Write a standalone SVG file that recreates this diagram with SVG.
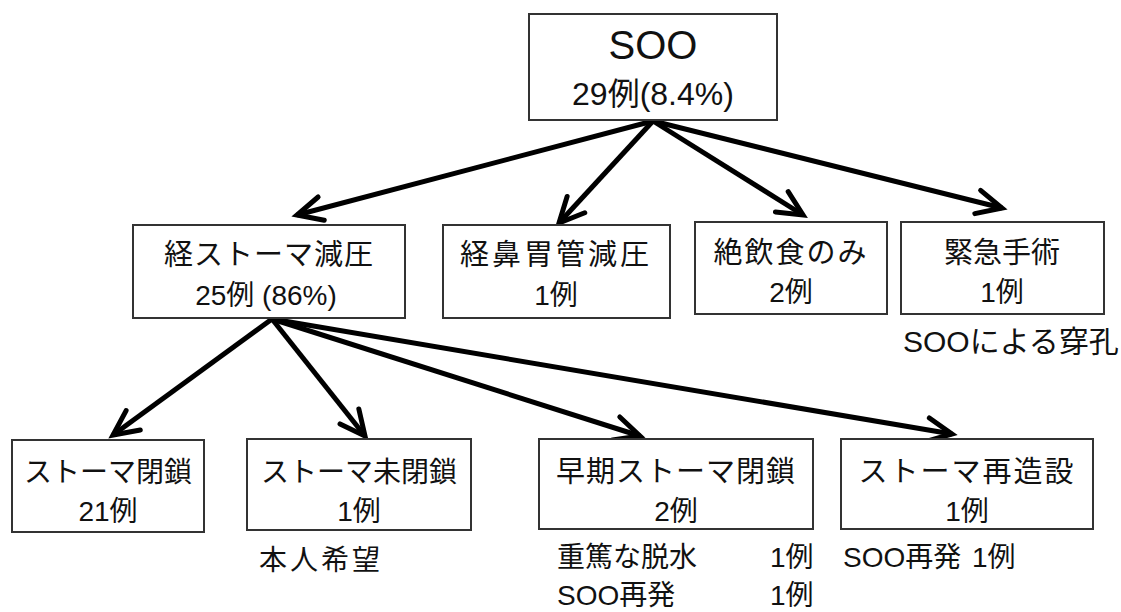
<svg xmlns="http://www.w3.org/2000/svg" width="1121" height="612" viewBox="0 0 1121 612">
<defs>
<style>
.box{fill:#fff;stroke:#333;stroke-width:2}
text{font-family:"Liberation Sans","Noto Sans CJK JP",sans-serif;fill:#111;text-anchor:middle}
.t{font-size:29px}
.n{font-size:28px}
.note{font-size:28px;text-anchor:start}
.conn line{stroke:#000;stroke-width:5;marker-end:url(#ah)}
</style>
<marker id="ah" markerUnits="userSpaceOnUse" markerWidth="40" markerHeight="40" refX="0" refY="0" viewBox="-30 -20 40 40" orient="auto">
<path d="M-25,-12 L0,0 L-25,12" fill="none" stroke="#000" stroke-width="5" stroke-linejoin="miter" stroke-linecap="round"/>
</marker>
</defs>
<rect width="1121" height="612" fill="#fff"/>
<g id="connectors" class="conn">
<line x1="653" y1="121" x2="297" y2="215"/>
<line x1="653" y1="121" x2="559" y2="223"/>
<line x1="653" y1="121" x2="803" y2="215"/>
<line x1="653" y1="121" x2="1002" y2="208"/>
<line x1="272" y1="319" x2="113" y2="435"/>
<line x1="272" y1="319" x2="365" y2="436"/>
<line x1="272" y1="319" x2="640" y2="436"/>
<line x1="272" y1="319" x2="952" y2="434"/>
</g>
<g id="n-soo">
<rect class="box" x="529" y="14" width="248" height="106"/>
<text x="653" y="59" style="font-size:40px">SOO</text>
<text x="653" y="105" style="font-size:32px">29例(8.4%)</text>
</g>
<g id="n-transstoma">
<rect class="box" x="133" y="225" width="272" height="93"/>
<text class="t" x="269" y="265" style="letter-spacing:1px">経ストーマ減圧</text>
<text class="n" x="266" y="305">25例 (86%)</text>
</g>
<g id="n-ngtube">
<rect class="box" x="443" y="225" width="227" height="93"/>
<text class="t" x="556" y="265" style="letter-spacing:3px">経鼻胃管減圧</text>
<text class="n" x="556" y="305">1例</text>
</g>
<g id="n-npo">
<rect class="box" x="695" y="222" width="192" height="92"/>
<text class="t" x="791" y="263" style="letter-spacing:2px">絶飲食のみ</text>
<text class="n" x="791" y="302">2例</text>
</g>
<g id="n-emerg">
<rect class="box" x="901" y="222" width="203" height="92"/>
<text class="t" x="1002" y="263">緊急手術</text>
<text class="n" x="1002" y="302">1例</text>
<text class="note" x="903" y="352" style="font-size:30px">SOOによる穿孔</text>
</g>
<g id="n-closed">
<rect class="box" x="12" y="440" width="192" height="92"/>
<text class="n" x="108" y="482">ストーマ閉鎖</text>
<text class="n" x="108" y="521">21例</text>
</g>
<g id="n-notclosed">
<rect class="box" x="247" y="439" width="224" height="91"/>
<text class="n" x="359" y="482">ストーマ未閉鎖</text>
<text class="n" x="359" y="521">1例</text>
<text class="note" x="259" y="570" style="letter-spacing:3px">本人希望</text>
</g>
<g id="n-early">
<rect class="box" x="539" y="439" width="274" height="90"/>
<text class="t" x="676" y="482" style="letter-spacing:1px">早期ストーマ閉鎖</text>
<text class="n" x="676" y="521">2例</text>
<text class="note" x="557" y="567">重篤な脱水</text>
<text class="note" x="770" y="567">1例</text>
<text class="note" x="557" y="605">SOO再発</text>
<text class="note" x="770" y="605">1例</text>
</g>
<g id="n-restoma">
<rect class="box" x="841" y="439" width="252" height="90"/>
<text class="t" x="967" y="482" style="letter-spacing:2px">ストーマ再造設</text>
<text class="n" x="967" y="521">1例</text>
<text class="note" x="843" y="567">SOO再発</text>
<text class="note" x="972" y="567">1例</text>
</g>
</svg>
